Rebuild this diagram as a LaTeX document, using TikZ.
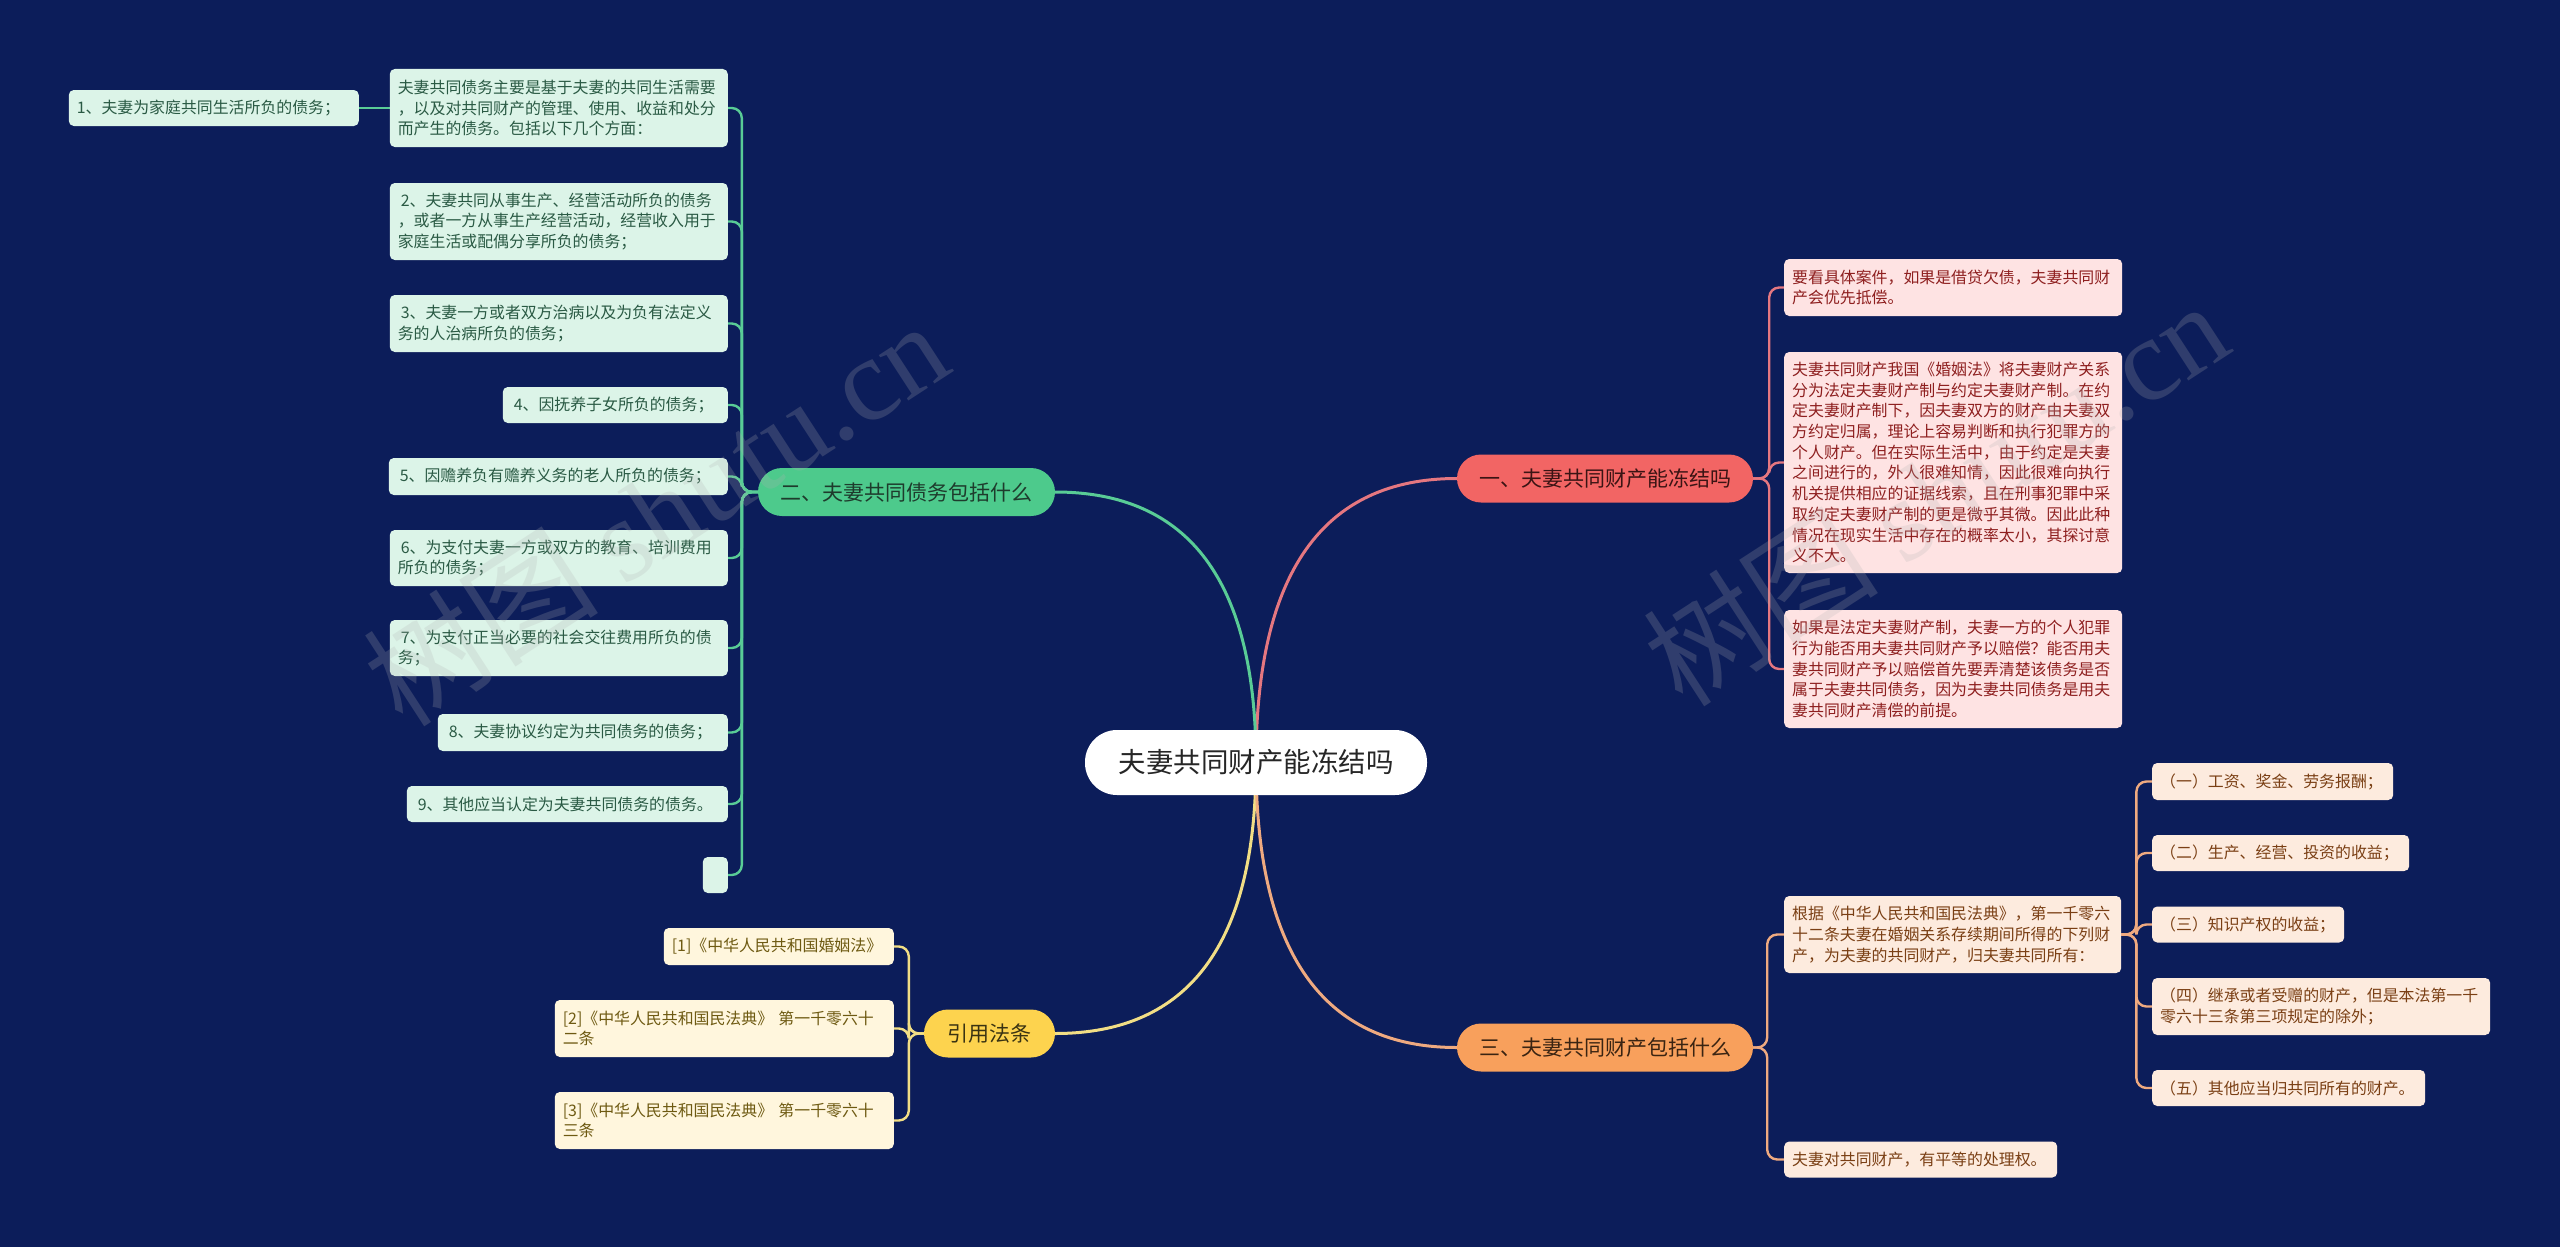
\documentclass[tikz,border=0pt]{standalone}
\usepackage{fontspec}
\setmainfont{Noto Sans CJK SC}
\newfontfamily\wmserif{Liberation Serif}
\pgfdeclarelayer{bglayer}
\pgfsetlayers{bglayer,main}
\definecolor{bgc}{HTML}{0C1D5A}
\definecolor{gfill}{HTML}{DCF4E8}\definecolor{gtext}{HTML}{2A5A44}\definecolor{gline}{HTML}{59CC96}\definecolor{gmain}{HTML}{4DCA8C}\definecolor{gmtext}{HTML}{1E3B2C}
\definecolor{rfill}{HTML}{FEE3E3}\definecolor{rtext}{HTML}{8E1F1F}\definecolor{rline}{HTML}{E57780}\definecolor{rmain}{HTML}{F26564}\definecolor{rmtext}{HTML}{3B1414}
\definecolor{ofill}{HTML}{FDEBDE}\definecolor{otext}{HTML}{7A3F14}\definecolor{oline}{HTML}{EFAA80}\definecolor{omain}{HTML}{F8A05C}\definecolor{omtext}{HTML}{3A2412}
\definecolor{yfill}{HTML}{FFF6DD}\definecolor{ytext}{HTML}{6E5A12}\definecolor{yline}{HTML}{F2DE85}\definecolor{ymain}{HTML}{FDD34E}\definecolor{ymtext}{HTML}{3A3312}
\tikzset{
  leaf/.style={rectangle, rounded corners=5pt, inner xsep=8pt, inner ysep=3pt, align=left,
    font=\fontsize{15.9}{20.7}\selectfont},
  gleaf/.style={leaf, fill=gfill, text=gtext},
  rleaf/.style={leaf, fill=rfill, text=rtext},
  oleaf/.style={leaf, fill=ofill, text=otext},
  yleaf/.style={leaf, fill=yfill, text=ytext},
  mainnode/.style={rectangle, rounded corners=24pt, minimum height=48pt, inner sep=0pt,
    font=\fontsize{21}{25}\selectfont},
  conn/.style={line width=2.4pt, rounded corners=10pt},
  rootconn/.style={line width=3pt},
  wm/.style={text=gray!60, text opacity=0.22, font=\fontsize{118}{128}\selectfont},
}
\begin{document}
\begin{tikzpicture}[x=1pt,y=-1pt]
\useasboundingbox (0,0) rectangle (2560,1247);
% root
\node[rectangle, rounded corners=32pt, fill=white, text=black!85, minimum width=342pt, minimum height=65pt,
  inner sep=0pt, font=\fontsize{27.5}{30}\selectfont] (c) at (1256,762.5) {夫妻共同财产能冻结吗};
% main topics
\node[mainnode, fill=gmain, text=gmtext, minimum width=297pt] (g) at (906.5,492) {二、夫妻共同债务包括什么};
\node[mainnode, fill=rmain, text=rmtext, minimum width=296pt] (r) at (1605,478.5) {一、夫妻共同财产能冻结吗};
\node[mainnode, fill=omain, text=omtext, minimum width=296pt] (o) at (1605,1047.5) {三、夫妻共同财产包括什么};
\node[mainnode, fill=ymain, text=ymtext, minimum width=131pt] (y) at (989.5,1033.5) {引用法条};
% green leaves
\node[gleaf, text width=322pt, minimum height=78pt, anchor=east] (gi) at (728,108)
  {夫妻共同债务主要是基于夫妻的共同生活需要\\，以及对共同财产的管理、使用、收益和处分\\而产生的债务。包括以下几个方面：};
\node[gleaf, text width=274pt, minimum height=36pt, anchor=east] (g1) at (359,108) {1、夫妻为家庭共同生活所负的债务；};
\node[gleaf, text width=322pt, minimum height=77pt, anchor=east] (g2) at (728,221.5)
  {\hspace{3pt}2、夫妻共同从事生产、经营活动所负的债务\\，或者一方从事生产经营活动，经营收入用于\\家庭生活或配偶分享所负的债务；};
\node[gleaf, text width=322pt, minimum height=57pt, anchor=east] (g3) at (728,323.5)
  {\hspace{3pt}3、夫妻一方或者双方治病以及为负有法定义\\务的人治病所负的债务；};
\node[gleaf, text width=209pt, minimum height=36pt, anchor=east] (g4) at (728,405) {\hspace{3pt}4、因抚养子女所负的债务；};
\node[gleaf, text width=323pt, minimum height=37pt, anchor=east] (g5) at (728,476.5) {\hspace{3pt}5、因赡养负有赡养义务的老人所负的债务；};
\node[gleaf, text width=322pt, minimum height=56pt, anchor=east] (g6) at (728,558)
  {\hspace{3pt}6、为支付夫妻一方或双方的教育、培训费用\\所负的债务；};
\node[gleaf, text width=322pt, minimum height=56pt, anchor=east] (g7) at (728,648)
  {\hspace{3pt}7、为支付正当必要的社会交往费用所负的债\\务；};
\node[gleaf, text width=274pt, minimum height=37pt, anchor=east] (g8) at (728,732.5) {\hspace{3pt}8、夫妻协议约定为共同债务的债务；};
\node[gleaf, text width=305pt, minimum height=36pt, anchor=east] (g9) at (728,804) {\hspace{3pt}9、其他应当认定为夫妻共同债务的债务。};
\node[gleaf, text width=9pt, minimum height=36pt, anchor=east] (g10) at (728,875) {};
% red leaves
\node[rleaf, text width=322pt, minimum height=57pt, anchor=west] (r1) at (1784,287.5)
  {要看具体案件，如果是借贷欠债，夫妻共同财\\产会优先抵偿。};
\node[rleaf, text width=322pt, minimum height=221pt, anchor=west] (r2) at (1784,462.5)
  {夫妻共同财产我国《婚姻法》将夫妻财产关系\\分为法定夫妻财产制与约定夫妻财产制。在约\\定夫妻财产制下，因夫妻双方的财产由夫妻双\\方约定归属，理论上容易判断和执行犯罪方的\\个人财产。但在实际生活中，由于约定是夫妻\\之间进行的，外人很难知情，因此很难向执行\\机关提供相应的证据线索，且在刑事犯罪中采\\取约定夫妻财产制的更是微乎其微。因此此种\\情况在现实生活中存在的概率太小，其探讨意\\义不大。};
\node[rleaf, text width=322pt, minimum height=118pt, anchor=west] (r3) at (1784,669)
  {如果是法定夫妻财产制，夫妻一方的个人犯罪\\行为能否用夫妻共同财产予以赔偿？能否用夫\\妻共同财产予以赔偿首先要弄清楚该债务是否\\属于夫妻共同债务，因为夫妻共同债务是用夫\\妻共同财产清偿的前提。};
% orange leaves
\node[oleaf, text width=321pt, minimum height=77pt, anchor=west] (oa) at (1784,934.5)
  {根据《中华人民共和国民法典》，第一千零六\\十二条夫妻在婚姻关系存续期间所得的下列财\\产，为夫妻的共同财产，归夫妻共同所有：};
\node[oleaf, text width=257pt, minimum height=36pt, anchor=west] (ob) at (1784,1159.5) {夫妻对共同财产，有平等的处理权。};
\node[oleaf, text width=225pt, minimum height=37pt, anchor=west] (s1) at (2152,781.5) {（一）工资、奖金、劳务报酬；};
\node[oleaf, text width=241pt, minimum height=36pt, anchor=west] (s2) at (2152,853) {（二）生产、经营、投资的收益；};
\node[oleaf, text width=176pt, minimum height=36pt, anchor=west] (s3) at (2152,924.5) {（三）知识产权的收益；};
\node[oleaf, text width=322pt, minimum height=57pt, anchor=west] (s4) at (2152,1006.5)
  {（四）继承或者受赠的财产，但是本法第一千\\零六十三条第三项规定的除外；};
\node[oleaf, text width=257pt, minimum height=36pt, anchor=west] (s5) at (2152,1088) {（五）其他应当归共同所有的财产。};
% yellow leaves
\node[yleaf, text width=214pt, minimum height=37pt, anchor=east] (y1) at (894,946.5) {[1]《中华人民共和国婚姻法》};
\node[yleaf, text width=323pt, minimum height=57pt, anchor=east] (y2) at (894,1028.5)
  {[2]《中华人民共和国民法典》 第一千零六十\\二条};
\node[yleaf, text width=323pt, minimum height=57pt, anchor=east] (y3) at (894,1120.5)
  {[3]《中华人民共和国民法典》 第一千零六十\\三条};
% watermarks
\node[wm, rotate=33] (wm1) at (655,512) {树图 {\wmserif shutu.cn}};
\node[wm, rotate=33] (wm2) at (1935,492) {树图 {\wmserif shutu.cn}};
\begin{pgfonlayer}{bglayer}
\fill[bgc] (0,0) rectangle (2560,1247);
% root connectors
\draw[rootconn, draw=rline] (c.center) .. controls +(0,-190) and +(-134,0) .. (r.west);
\draw[rootconn, draw=gline] (c.center) .. controls +(0,-181) and +(134,0) .. (g.east);
\draw[rootconn, draw=yline] (c.center) .. controls +(0,181) and +(134,0) .. (y.east);
\draw[rootconn, draw=oline] (c.center) .. controls +(0,190) and +(-134,0) .. (o.west);
% green
\foreach \n in {gi,g2,g3,g4,g5,g6,g7,g8,g9,g10}
  \draw[conn, draw=gline] (g.west) -- ++(-16,0) |- (\n.east);
\draw[conn, draw=gline] (gi.west) -- (g1.east);
% red
\foreach \n in {r1,r2,r3}
  \draw[conn, draw=rline] (r.east) -- ++(16,0) |- (\n.west);
% orange
\foreach \n in {oa,ob}
  \draw[conn, draw=oline] (o.east) -- ++(14,0) |- (\n.west);
\foreach \n in {s1,s2,s3,s4,s5}
  \draw[conn, draw=oline] (oa.east) -- ++(15,0) |- (\n.west);
% yellow
\foreach \n in {y1,y2,y3}
  \draw[conn, draw=yline] (y.west) -- ++(-15,0) |- (\n.east);
\end{pgfonlayer}
\end{tikzpicture}
\end{document}
